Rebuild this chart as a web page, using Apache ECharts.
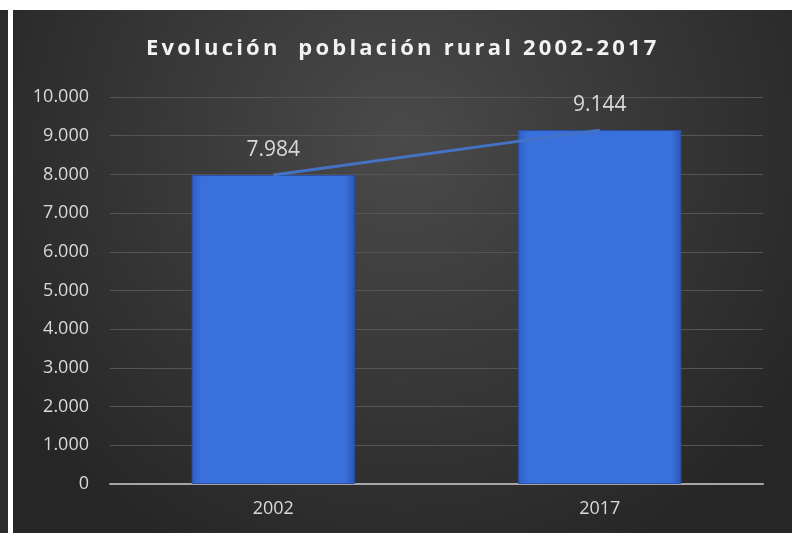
<!DOCTYPE html>
<html><head><meta charset="utf-8">
<script src="https://cdn.jsdelivr.net/npm/echarts@6/dist/echarts.min.js"></script>
<style>
html,body{margin:0;padding:0;background:#fff;width:792px;height:533px;overflow:hidden;position:relative}
#strip{position:absolute;left:0;top:10px;width:8px;height:523px;background:#2b2b2b}
#c{position:absolute;left:13px;top:10px;width:779px;height:523px}
</style></head>
<body><div id="strip"></div><div id="c"></div>
<script>
var titleText = 'Evolución  población rural 2002-2017';
var categories = ['2002', '2017'];
var poblacion = [7984, 9144];
var yTicks = [0, 1000, 2000, 3000, 4000, 5000, 6000, 7000, 8000, 9000, 10000];

function fmt(v){ return String(v).replace(/\B(?=(\d{3})+(?!\d))/g, '.'); }

// widen the title's letter spacing (as in the original) when the canvas supports it
(function(){
  var proto = CanvasRenderingContext2D.prototype, orig = proto.fillText;
  proto.fillText = function(t, x, y, m){
    if (t === titleText && 'letterSpacing' in this) {
      var prev = this.letterSpacing; this.letterSpacing = '3.2px';
      var r = orig.apply(this, arguments); this.letterSpacing = prev; return r;
    }
    return orig.apply(this, arguments);
  };
})();

var chart = echarts.init(document.getElementById('c'), null, {renderer:'canvas'});
chart.setOption({
  animation: false,
  backgroundColor: {type:'radial', x:0.5, y:0.25, r:0.9, colorStops:[{offset:0,color:'#4a4a4a'},{offset:1,color:'#262626'}]},
  title: {text: titleText, left:128, top:23, textStyle:{color:'#f2f2f2', fontSize:22, fontWeight:'bold', fontFamily:'Open Sans'}},
  grid: {left:97, right:29, top:87, bottom:49},
  xAxis: {type:'category', data:categories,
    axisLine:{lineStyle:{color:'#a6a6a6', width:2}}, axisTick:{show:false},
    axisLabel:{color:'#d9d9d9', fontSize:18, margin:16, fontFamily:'Open Sans'}},
  yAxis: {type:'value', min:yTicks[0], max:yTicks[yTicks.length-1], interval:1000,
    axisLine:{show:false}, axisTick:{show:false},
    splitLine:{lineStyle:{color:'#555555', width:1}},
    axisLabel:{color:'#d9d9d9', fontSize:18, margin:21, fontFamily:'Open Sans', formatter:fmt}},
  series: [
    {type:'bar', data:poblacion, barWidth:'50%',
     itemStyle:{color:{type:'linear',x:0,y:0,x2:1,y2:0,colorStops:[{offset:0,color:'#2f5fc4'},{offset:0.06,color:'#3a70dc'},{offset:0.94,color:'#3a70dc'},{offset:1,color:'#2a55b0'}]}, borderColor:'#2a50a8', borderWidth:1},
     label:{show:true, position:'top', distance:15, color:'#d9d9d9', fontSize:21, fontFamily:'Open Sans', formatter:function(p){return fmt(p.value);}}},
    {type:'line', data:poblacion, symbol:'none', lineStyle:{color:'#4472c4', width:3}, z:3}
  ]
});
</script></body></html>
